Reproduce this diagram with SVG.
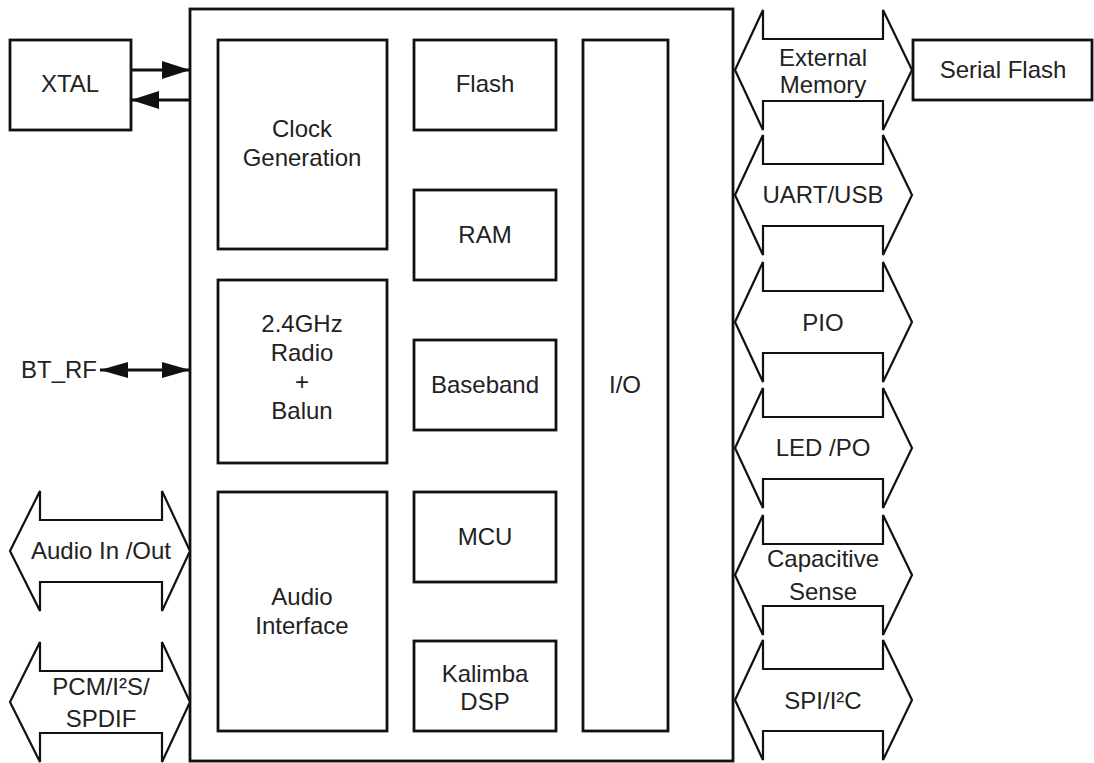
<svg xmlns="http://www.w3.org/2000/svg" width="1094" height="763" viewBox="0 0 1094 763">
<defs>
<style>
.box{fill:#fff;stroke:#111;stroke-width:2.8}
.blk{fill:#fff;stroke:#111;stroke-width:2.2;stroke-linejoin:miter}
.ln{fill:none;stroke:#111;stroke-width:2.8}
text{font-family:"Liberation Sans",Arial,sans-serif;font-size:24px;fill:#222;text-anchor:middle}
</style>
<marker id="ah" viewBox="0 0 28 18" refX="28" refY="9" markerWidth="28" markerHeight="18" markerUnits="userSpaceOnUse" orient="auto-start-reverse">
<path d="M0,0 L28,9 L0,18 Z" fill="#111"/>
</marker>
<marker id="ah2" viewBox="0 0 28 16" refX="28" refY="8" markerWidth="28" markerHeight="16" markerUnits="userSpaceOnUse" orient="auto-start-reverse">
<path d="M0,0 L28,8 L0,16 Z" fill="#111"/>
</marker>
</defs>
<rect width="1094" height="763" fill="#fff"/>

<g id="chip">
<rect class="box" x="190" y="9" width="543" height="752"/>
</g>

<g id="clock"><rect class="box" x="218" y="40" width="169" height="209"/>
<text x="302" y="137">Clock</text><text x="302" y="166">Generation</text></g>
<g id="radio"><rect class="box" x="218" y="280" width="169" height="183"/>
<text x="302" y="332">2.4GHz</text><text x="302" y="361">Radio</text><text x="302" y="390">+</text><text x="302" y="419">Balun</text></g>
<g id="audio-if"><rect class="box" x="218" y="492" width="169" height="239"/>
<text x="302" y="605">Audio</text><text x="302" y="634">Interface</text></g>

<g id="flash"><rect class="box" x="414" y="40" width="142" height="90"/><text x="485" y="92">Flash</text></g>
<g id="ram"><rect class="box" x="414" y="190" width="142" height="90"/><text x="485" y="243">RAM</text></g>
<g id="baseband"><rect class="box" x="414" y="340" width="142" height="90"/><text x="485" y="393">Baseband</text></g>
<g id="mcu"><rect class="box" x="414" y="492" width="142" height="90"/><text x="485" y="545">MCU</text></g>
<g id="dsp"><rect class="box" x="414" y="641" width="142" height="90"/><text x="485" y="682">Kalimba</text><text x="485" y="710">DSP</text></g>

<g id="io"><rect class="box" x="583" y="40" width="85" height="691"/><text x="625" y="393">I/O</text></g>

<g id="xtal"><rect class="box" x="10" y="40" width="121" height="90"/><text x="70" y="92">XTAL</text></g>
<g id="bt-rf"><text x="59" y="378">BT_RF</text></g>
<g id="serial-flash"><rect class="box" x="913" y="40" width="179" height="60"/><text x="1003" y="78">Serial Flash</text></g>

<g id="connectors">
<line class="ln" x1="131" y1="70" x2="190" y2="70" marker-end="url(#ah)"/>
<line class="ln" x1="190" y1="100" x2="131" y2="100" marker-end="url(#ah)"/>
<line class="ln" x1="100" y1="370" x2="190" y2="370" marker-start="url(#ah2)" marker-end="url(#ah2)"/>
</g>

<g id="bus-external-memory">
<polygon class="blk" points="735,70 763,10 763,39 883,39 883,10 912,70 883,130 883,101 763,101 763,130"/>
<text x="823" y="66">External</text><text x="823" y="93">Memory</text></g>
<g id="bus-uart-usb">
<polygon class="blk" points="735,195 763,135 763,164 883,164 883,135 912,195 883,255 883,226 763,226 763,255"/>
<text x="823" y="203">UART/USB</text></g>
<g id="bus-pio">
<polygon class="blk" points="735,322 763,262 763,291 883,291 883,262 912,322 883,382 883,353 763,353 763,382"/>
<text x="823" y="331">PIO</text></g>
<g id="bus-led-po">
<polygon class="blk" points="735,448 763,388 763,417 883,417 883,388 912,448 883,508 883,479 763,479 763,508"/>
<text x="823" y="456">LED /PO</text></g>
<g id="bus-capacitive">
<polygon class="blk" points="735,575 763,515 763,544 883,544 883,515 912,575 883,635 883,606 763,606 763,635"/>
<text x="823" y="567">Capacitive</text><text x="823" y="600">Sense</text></g>
<g id="bus-spi-i2c">
<polygon class="blk" points="735,700 763,640 763,669 883,669 883,640 912,700 883,760 883,731 763,731 763,760"/>
<text x="823" y="709">SPI/I²C</text></g>

<g id="bus-audio-io">
<polygon class="blk" points="10,551 40,491 40,520 162,520 162,491 190,551 162,611 162,582 40,582 40,611"/>
<text x="101" y="559">Audio In /Out</text></g>
<g id="bus-pcm">
<polygon class="blk" points="10,702 40,642 40,671 162,671 162,642 190,702 162,762 162,733 40,733 40,762"/>
<text x="101" y="695">PCM/I²S/</text><text x="101" y="727">SPDIF</text></g>
</svg>
